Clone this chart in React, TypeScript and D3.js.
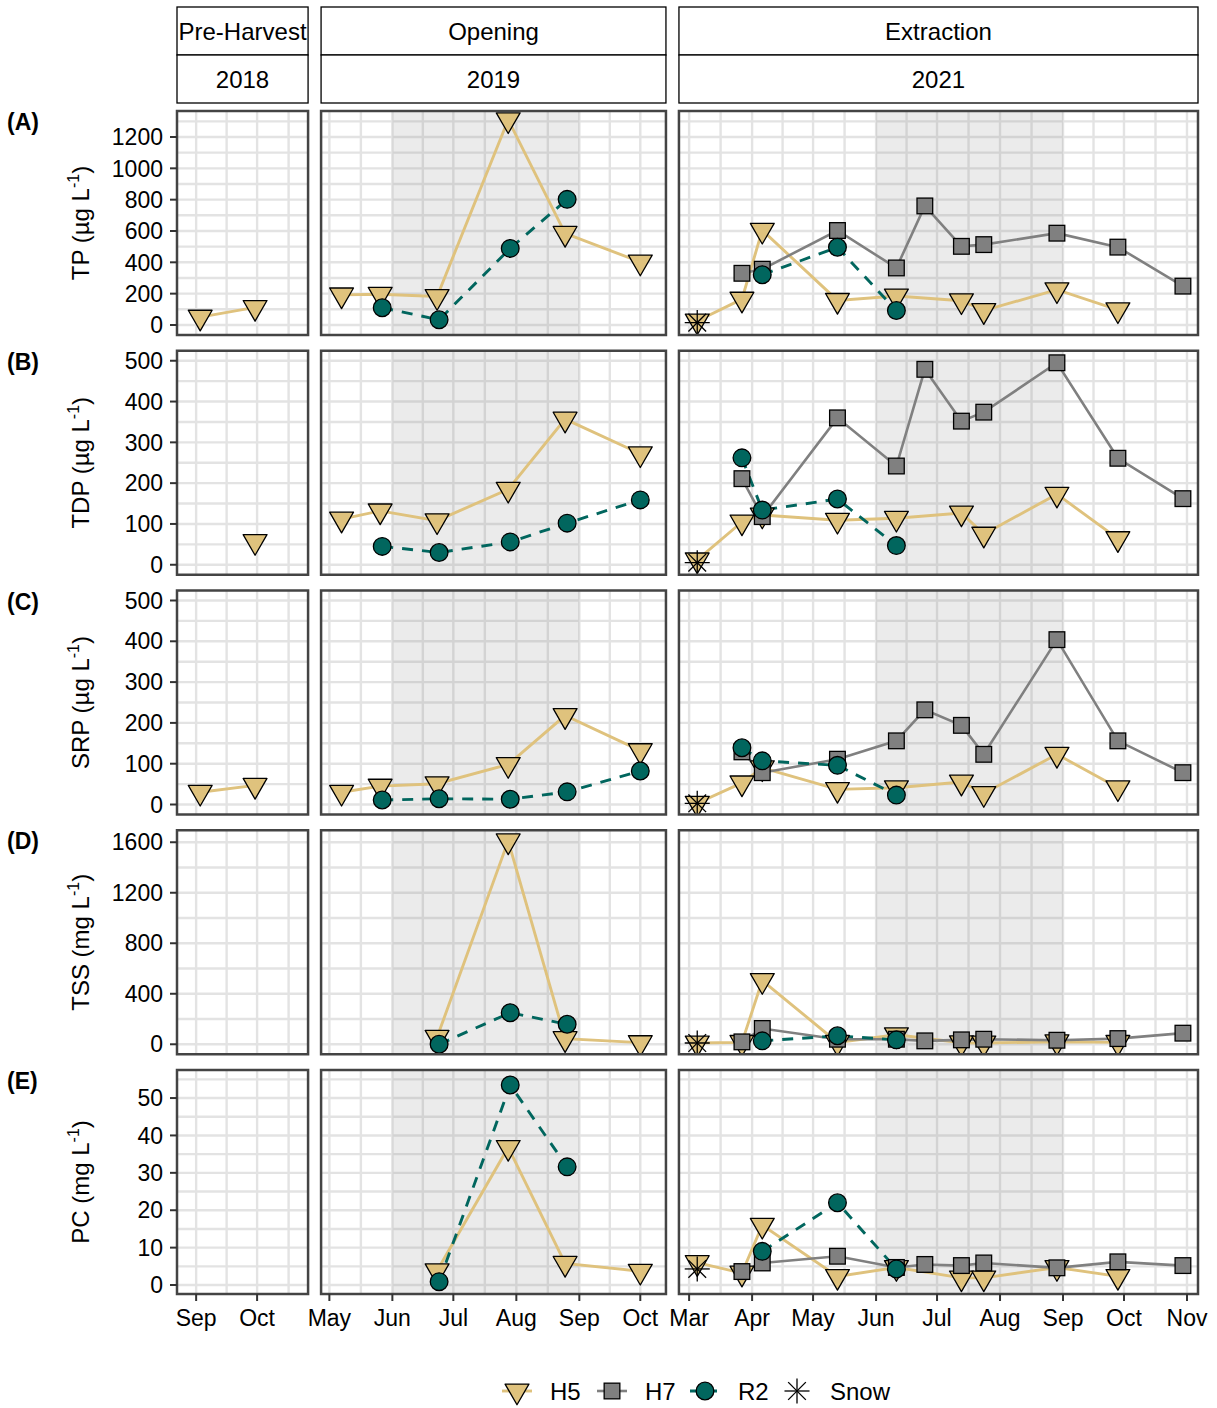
import React from 'react';
import * as d3 from 'd3';

const FONT = '"Liberation Sans", Arial, Helvetica, sans-serif';

// ---------- facets ----------
const phaseLabels = ['Pre-Harvest', 'Opening', 'Extraction'];
const yearLabels = ['2018', '2019', '2021'];
const xDomainStr = [
  ['2018-08-22T14:00', '2018-10-26T02:00'],
  ['2019-04-26T22:00', '2019-10-13T15:00'],
  ['2021-02-24T00:00', '2021-11-06T10:00'],
];
const shadeStr: (string[] | null)[] = [null, ['2019-06-01', '2019-09-01'], ['2021-06-01', '2021-09-01']];

const varNames = ['TP', 'TDP', 'SRP', 'TSS', 'PC'];
const rowTags = ['(A)', '(B)', '(C)', '(D)', '(E)'];
const varUnits = ['µg', 'µg', 'µg', 'mg', 'mg'];
const yLimits = [[-64, 1366], [-24.5, 524.5], [-24.5, 524.5], [-79, 1695], [-2.4, 57.5]];
const yBreaks = [
  [0, 200, 400, 600, 800, 1000, 1200],
  [0, 100, 200, 300, 400, 500],
  [0, 100, 200, 300, 400, 500],
  [0, 400, 800, 1200, 1600],
  [0, 10, 20, 30, 40, 50],
];

// ---------- sampling dates ----------
const datesH5_2018 = ['2018-09-03', '2018-09-30'];
const datesH5_2019 = ['2019-05-07', '2019-05-26', '2019-06-23', '2019-07-28', '2019-08-25', '2019-10-01'];
const datesR2_2019 = ['2019-05-27', '2019-06-24', '2019-07-29', '2019-08-26', '2019-10-01'];
const datesH5_2021 = ['2021-03-05', '2021-03-27', '2021-04-06', '2021-05-13', '2021-06-11', '2021-07-13', '2021-07-24', '2021-08-29', '2021-09-28'];
const datesH7_2021 = ['2021-03-27', '2021-04-06', '2021-05-13', '2021-06-11', '2021-06-25', '2021-07-13', '2021-07-24', '2021-08-29', '2021-09-28', '2021-10-30'];
const datesR2_2021 = ['2021-03-27', '2021-04-06', '2021-05-13', '2021-06-11'];
const datesSnow_2021 = ['2021-03-05'];

// ---------- values ----------
// TP (µg/L)
const TP_H5_2018 = [50, 112];
const TP_H5_2019 = [192, 196, 182, 1310, 585, 402];
const TP_R2_2019 = [110, 33, 489, 802, null];
const TP_H5_2021 = [25, 165, 605, 157, 185, 155, 92, 225, 97];
const TP_H7_2021 = [330, 356, 603, 364, 760, 502, 513, 586, 497, 248];
const TP_R2_2021 = [null, 321, 496, 92];
const TP_Snow_2021 = [15];
// TDP (µg/L)
const TDP_H5_2018 = [null, 57];
const TDP_H5_2019 = [112, 132, 108, 185, 357, 272];
const TDP_R2_2019 = [45, 30, 56, 102, 159];
const TDP_H5_2021 = [12, 105, 122, 109, 114, 127, 75, 173, 64];
const TDP_H7_2021 = [211, 118, 360, 242, 479, 352, 374, 495, 261, 162];
const TDP_R2_2021 = [262, 134, 161, 47];
const TDP_Snow_2021 = [5];
// SRP (µg/L)
const SRP_H5_2018 = [30, 47];
const SRP_H5_2019 = [30, 45, 51, 98, 218, 132];
const SRP_R2_2019 = [11, 14, 13, 31, 82];
const SRP_H5_2021 = [3, 53, 90, 37, 41, 55, 27, 123, 41];
const SRP_H7_2021 = [129, 78, 111, 156, 232, 194, 123, 404, 156, 78];
const SRP_R2_2021 = [139, 107, 96, 23];
const SRP_Snow_2021 = [3];
// TSS (mg/L)
const TSS_H5_2018 = [null, null];
const TSS_H5_2019 = [null, null, 55, 1611, 45, 13];
const TSS_R2_2019 = [null, 0, 250, 158, null];
const TSS_H5_2021 = [10, 15, 505, 15, 75, 12, 10, 20, 15];
const TSS_H7_2021 = [19, 125, 40, 40, 27, 35, 40, 32, 45, 88];
const TSS_R2_2021 = [null, 27, 67, 35];
const TSS_Snow_2021 = [10];
// PC (mg/L)
const PC_H5_2018 = [null, null];
const PC_H5_2019 = [null, null, 3.8, 36.8, 5.8, 3.7];
const PC_R2_2019 = [null, 0.9, 53.5, 31.6, null];
const PC_H5_2021 = [6, 3.2, 16, 2.3, 4.7, 1.9, 1.9, 4.7, 2.3];
const PC_H7_2021 = [3.6, 5.9, 7.7, 4.7, 5.5, 5.2, 5.9, 4.6, 6.2, 5.2];
const PC_R2_2021 = [null, 9, 22, 4.3];
const PC_Snow_2021 = [4.3];

const siteNames = ['H5', 'H7', 'R2', 'Snow'];
const siteFill: Record<string, string> = { H5: '#DFC27D', H7: '#808080', R2: '#01665E', Snow: '#000000' };
const siteLine: Record<string, string> = { H5: '#DFC27D', H7: '#808080', R2: '#01665E', Snow: 'none' };

type Series = { site: string; col: number; dates: string[]; values: (number | null)[] };

const valuesByVar: Record<string, (number | null)[][]> = {
  TP: [TP_H5_2018, TP_H5_2019, TP_R2_2019, TP_H5_2021, TP_H7_2021, TP_R2_2021, TP_Snow_2021],
  TDP: [TDP_H5_2018, TDP_H5_2019, TDP_R2_2019, TDP_H5_2021, TDP_H7_2021, TDP_R2_2021, TDP_Snow_2021],
  SRP: [SRP_H5_2018, SRP_H5_2019, SRP_R2_2019, SRP_H5_2021, SRP_H7_2021, SRP_R2_2021, SRP_Snow_2021],
  TSS: [TSS_H5_2018, TSS_H5_2019, TSS_R2_2019, TSS_H5_2021, TSS_H7_2021, TSS_R2_2021, TSS_Snow_2021],
  PC: [PC_H5_2018, PC_H5_2019, PC_R2_2019, PC_H5_2021, PC_H7_2021, PC_R2_2021, PC_Snow_2021],
};
const seriesMeta: { site: string; col: number; dates: string[] }[] = [
  { site: 'H5', col: 0, dates: datesH5_2018 },
  { site: 'H5', col: 1, dates: datesH5_2019 },
  { site: 'R2', col: 1, dates: datesR2_2019 },
  { site: 'H5', col: 2, dates: datesH5_2021 },
  { site: 'H7', col: 2, dates: datesH7_2021 },
  { site: 'R2', col: 2, dates: datesR2_2021 },
  { site: 'Snow', col: 2, dates: datesSnow_2021 },
];

// ---------- layout ----------
const plotLeft = 177;
const plotRight = 1198;
const colGap = 13;
const rowTop0 = 111;
const rowH = 224;
const rowStep = 239.75;
const RAD = 8.85;

const parseD = d3.timeParse('%Y-%m-%d');
const parseT = d3.timeParse('%Y-%m-%dT%H:%M');

function Marker({ site, x, y }: { site: string; x: number; y: number }) {
  const sw = 1.3;
  if (site === 'H5') {
    const r = 1.5551 * RAD, xc = 1.3468 * RAD, yc = 0.7776 * RAD;
    return <polygon points={`${x},${y + r} ${x + xc},${y - yc} ${x - xc},${y - yc}`} fill={siteFill.H5} stroke="#000" strokeWidth={sw} strokeLinejoin="round" />;
  }
  if (site === 'H7') {
    const h = 0.886 * RAD;
    return <rect x={x - h} y={y - h} width={2 * h} height={2 * h} fill={siteFill.H7} stroke="#000" strokeWidth={sw} />;
  }
  if (site === 'R2') {
    return <circle cx={x} cy={y} r={RAD} fill={siteFill.R2} stroke="#000" strokeWidth={sw} />;
  }
  const d = RAD, p = RAD * Math.SQRT2;
  return (
    <g stroke="#000" strokeWidth={1.3} strokeLinecap="butt">
      <line x1={x - d} y1={y - d} x2={x + d} y2={y + d} />
      <line x1={x - d} y1={y + d} x2={x + d} y2={y - d} />
      <line x1={x - p} y1={y} x2={x + p} y2={y} />
      <line x1={x} y1={y - p} x2={x} y2={y + p} />
    </g>
  );
}

export default function App() {
  const colDomains = xDomainStr.map(([a, b]) => [parseT(a)!, parseT(b)!] as [Date, Date]);
  const colDays = colDomains.map(([a, b]) => (b.getTime() - a.getTime()) / 86400000);
  const pxDay = (plotRight - plotLeft - 2 * colGap) / d3.sum(colDays);
  let cx0 = plotLeft;
  const cols = colDays.map((d) => {
    const w = d * pxDay;
    const c = { x: cx0, w };
    cx0 += w + colGap;
    return c;
  });
  const xScales = cols.map((c, i) => d3.scaleTime().domain(colDomains[i]).range([c.x, c.x + c.w]));

  const rows = varNames.map((_, r) => {
    const top = rowTop0 + r * rowStep;
    const y = d3.scaleLinear().domain(yLimits[r]).range([top + rowH, top]);
    return { top, y };
  });

  const gridCol = '#E3E3E3';
  const gridW = 2.4;

  const monthMajors = (i: number) => {
    const [a, b] = colDomains[i];
    return d3.timeMonth.range(a, new Date(b.getTime() + 1));
  };
  const monthMinors = (i: number) => {
    const [a, b] = colDomains[i];
    const start = d3.timeMonth.offset(d3.timeMonth.floor(a), -1);
    const end = d3.timeMonth.offset(d3.timeMonth.ceil(b), 1);
    const ms = d3.timeMonth.range(start, end);
    const out: Date[] = [];
    for (let k = 0; k < ms.length - 1; k++) {
      const m = new Date((ms[k].getTime() + ms[k + 1].getTime()) / 2);
      if (m >= a && m <= b) out.push(m);
    }
    return out;
  };
  const yMinors = (r: number) => {
    const br = yBreaks[r];
    const step = br[1] - br[0];
    const out: number[] = [];
    for (let v = br[0] - step / 2; v <= br[br.length - 1] + step / 2 + 1e-9; v += step) {
      if (v >= yLimits[r][0] && v <= yLimits[r][1]) out.push(v);
    }
    return out;
  };

  const panels: React.ReactNode[] = [];
  varNames.forEach((vn, r) => {
    const { top, y } = rows[r];
    const bottom = top + rowH;
    cols.forEach((c, ci) => {
      const xs = xScales[ci];
      const clipId = `clip-${r}-${ci}`;
      const series: Series[] = seriesMeta
        .map((m, k) => ({ ...m, values: valuesByVar[vn][k] }))
        .filter((s) => s.col === ci);
      const pts = (s: Series) =>
        s.dates
          .map((d, k) => ({ d: parseD(d)!, v: s.values[k] }))
          .filter((p) => p.v !== null && p.v !== undefined) as { d: Date; v: number }[];
      const lineGen = d3.line<{ d: Date; v: number }>().x((p) => xs(p.d)).y((p) => y(p.v));
      const sh = shadeStr[ci];
      panels.push(
        <g key={`p-${r}-${ci}`}>
          <defs>
            <clipPath id={clipId}>
              <rect x={c.x} y={top} width={c.w} height={rowH} />
            </clipPath>
          </defs>
          <rect x={c.x} y={top} width={c.w} height={rowH} fill="#fff" />
          <g clipPath={`url(#${clipId})`}>
            {yMinors(r).map((v) => (
              <line key={`ym${v}`} x1={c.x} x2={c.x + c.w} y1={y(v)} y2={y(v)} stroke={gridCol} strokeWidth={gridW} />
            ))}
            {monthMinors(ci).map((d) => (
              <line key={`xm${d.getTime()}`} x1={xs(d)} x2={xs(d)} y1={top} y2={bottom} stroke={gridCol} strokeWidth={gridW} />
            ))}
            {yBreaks[r].map((v) => (
              <line key={`yM${v}`} x1={c.x} x2={c.x + c.w} y1={y(v)} y2={y(v)} stroke={gridCol} strokeWidth={gridW} />
            ))}
            {monthMajors(ci).map((d) => (
              <line key={`xM${d.getTime()}`} x1={xs(d)} x2={xs(d)} y1={top} y2={bottom} stroke={gridCol} strokeWidth={gridW} />
            ))}
            {sh && (
              <rect
                x={xs(parseD(sh[0])!)}
                y={top}
                width={xs(parseD(sh[1])!) - xs(parseD(sh[0])!)}
                height={rowH}
                fill="#808080"
                fillOpacity={0.16}
              />
            )}
            {siteNames.map((site) =>
              series
                .filter((s) => s.site === site && site !== 'Snow')
                .map((s, k) => {
                  const p = pts(s);
                  if (p.length < 2) return null;
                  return (
                    <path
                      key={`l-${site}-${k}`}
                      d={lineGen(p) || ''}
                      fill="none"
                      stroke={siteLine[site]}
                      strokeWidth={site === 'H7' ? 2.6 : 2.9}
                      strokeDasharray={site === 'R2' ? '11 9' : undefined}
                    />
                  );
                })
            )}
            {siteNames.map((site) =>
              series
                .filter((s) => s.site === site)
                .map((s, k) =>
                  pts(s).map((p, j) => <Marker key={`m-${site}-${k}-${j}`} site={site} x={xs(p.d)} y={y(p.v)} />)
                )
            )}
          </g>
          <rect x={c.x} y={top} width={c.w} height={rowH} fill="none" stroke="#444" strokeWidth={2.5} />
        </g>
      );
    });
  });

  // y axes (left column only)
  const yAxes = varNames.map((vn, r) => {
    const { top, y } = rows[r];
    const cy = top + rowH / 2;
    return (
      <g key={`ya-${r}`}>
        {yBreaks[r].map((v) => (
          <g key={v}>
            <line x1={plotLeft - 7} x2={plotLeft} y1={y(v)} y2={y(v)} stroke="#333" strokeWidth={2} />
            <text x={plotLeft - 14} y={y(v) + 8.2} textAnchor="end" fontSize={23} fill="#000">
              {v}
            </text>
          </g>
        ))}
        <text transform={`translate(89, ${cy}) rotate(-90)`} textAnchor="middle" fontSize={24} fill="#000">
          {`${vn} (${varUnits[r]} L`}
          <tspan dy={-10} fontSize={16}>-1</tspan>
          <tspan dy={10}>)</tspan>
        </text>
        <text x={7} y={top + 19} fontSize={23} fontWeight="bold" fill="#000">
          {rowTags[r]}
        </text>
      </g>
    );
  });

  // x axes (bottom row)
  const lastBottom = rows[rows.length - 1].top + rowH;
  const monthFmt = d3.timeFormat('%b');
  const xAxes = cols.map((c, ci) => (
    <g key={`xa-${ci}`}>
      {monthMajors(ci).map((d) => (
        <g key={d.getTime()}>
          <line x1={xScales[ci](d)} x2={xScales[ci](d)} y1={lastBottom} y2={lastBottom + 7} stroke="#333" strokeWidth={2} />
          <text x={xScales[ci](d)} y={lastBottom + 32} textAnchor="middle" fontSize={23} fill="#000">
            {monthFmt(d)}
          </text>
        </g>
      ))}
    </g>
  ));

  // strips
  const strips = cols.map((c, ci) => (
    <g key={`st-${ci}`}>
      <rect x={c.x} y={7} width={c.w} height={48} fill="#fff" stroke="#000" strokeWidth={1.3} />
      <rect x={c.x} y={55} width={c.w} height={48} fill="#fff" stroke="#000" strokeWidth={1.3} />
      <text x={c.x + c.w / 2} y={39.5} textAnchor="middle" fontSize={24} fill="#000">
        {phaseLabels[ci]}
      </text>
      <text x={c.x + c.w / 2} y={87.5} textAnchor="middle" fontSize={24} fill="#000">
        {yearLabels[ci]}
      </text>
    </g>
  ));

  // legend
  const legendY = 1391;
  const legendKeys = [517, 612, 705, 797];
  const legend = siteNames.map((site, i) => {
    const kx = legendKeys[i];
    return (
      <g key={`lg-${site}`}>
        {site !== 'Snow' && (
          <line
            x1={kx - 15}
            x2={kx + 15}
            y1={legendY}
            y2={legendY}
            stroke={siteLine[site]}
            strokeWidth={site === 'H7' ? 2.6 : 2.9}
            strokeDasharray={site === 'R2' ? '11 9' : undefined}
            strokeDashoffset={site === 'R2' ? 4 : undefined}
          />
        )}
        <Marker site={site} x={kx} y={legendY} />
        <text x={kx + 33} y={legendY + 8.5} fontSize={24} fill="#000">
          {site}
        </text>
      </g>
    );
  });

  return (
    <svg
      width={1217}
      height={1408}
      style={{ position: 'absolute', left: 0, top: 0, background: '#fff' }}
      fontFamily={FONT}
    >
      <rect x={0} y={0} width={1217} height={1408} fill="#fff" />
      {strips}
      {panels}
      {yAxes}
      {xAxes}
      {legend}
    </svg>
  );
}
